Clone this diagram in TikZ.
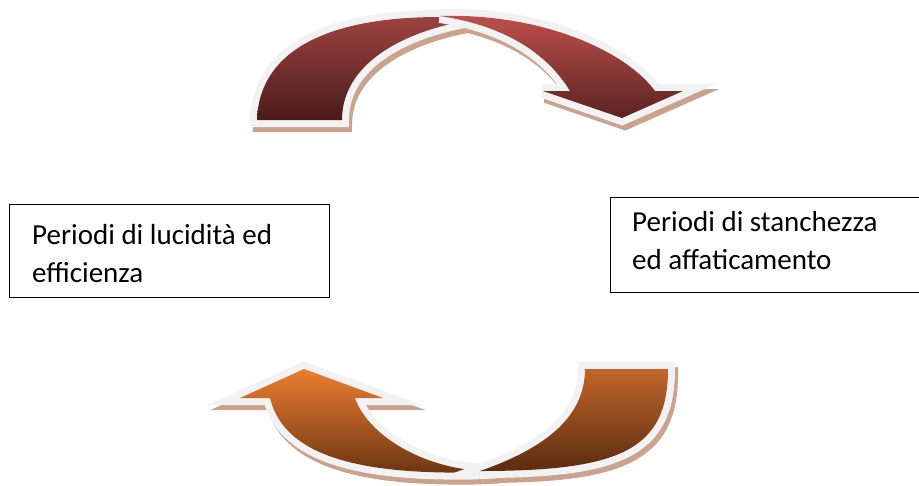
\documentclass[tikz,border=0pt]{standalone}
\usepackage{fontspec}
\setmainfont{Carlito}
\begin{document}
\begin{tikzpicture}[x=1pt,y=-1pt,
  outl/.style={draw=outlc,line width=14pt,line join=miter,miter limit=6},
  shad/.style={fill=shadc,draw=shadc,line width=14pt,line join=miter,miter limit=6,shift={(3,5)}},
  box/.style={draw=black,line width=1.3pt,rectangle,inner sep=0pt},
  txt/.style={font=\fontsize{29}{37.5}\selectfont,align=left,inner sep=0pt,anchor=base west}]
\definecolor{outlc}{HTML}{F2F2F2}
\definecolor{shadc}{HTML}{C9A38D}
\definecolor{rtop}{HTML}{9C4240}
\definecolor{rbot}{HTML}{4A1C1B}
\definecolor{htop}{HTML}{C0504D}
\definecolor{hbot}{HTML}{5B2321}
\definecolor{otop}{HTML}{ED7D31}
\definecolor{obot}{HTML}{6B3512}
\definecolor{ttop}{HTML}{C2652B}
\definecolor{tbot}{HTML}{5A2C10}
\def\ttail{(257,120) .. controls (259,55) and (320,17) .. (440,17) -- (470,20)
  .. controls (400,32) and (342,65) .. (342,120) -- cycle}
\def\thead{(440,16) .. controls (540,13) and (625,50) .. (655,91)
  -- (683,91) -- (622,118) -- (543,91) -- (570,91)
  .. controls (545,50) and (500,25) .. (440,16) -- cycle}
\def\bhead{(304,369) -- (383,398) -- (355,398)
  .. controls (368,435) and (420,465) .. (472,470) -- (495,471.5) -- (472,472.5)
  .. controls (370,474) and (285,460) .. (270,398)
  -- (240,398) -- cycle}
\def\btail{(585,369) -- (668,369)
  .. controls (668,450) and (620,471) .. (480,471)
  .. controls (540,450) and (585,420) .. (585,369) -- cycle}
\fill[white] (0,0) rectangle (919,485);
\useasboundingbox (0,0) rectangle (919,485);
\clip (0,0) rectangle (919,485);
% top arrow
\filldraw[shad] \ttail;
\filldraw[shad] \thead;
\draw[outl] \ttail;
\shade[top color=rtop,bottom color=rbot] \ttail;
\draw[outl] \thead;
\shade[top color=htop,bottom color=hbot] \thead;
% bottom arrow
\filldraw[shad] \bhead;
\filldraw[shad] \btail;
\draw[outl] \bhead;
\shade[top color=otop,bottom color=obot] \bhead;
\draw[outl] \btail;
\shade[top color=ttop,bottom color=tbot] \btail;
% boxes
\node[box,minimum width=320pt,minimum height=93pt,anchor=north west] (lbox) at (9,204) {};
\node[txt] (ltext) at (32,282) {Periodi di lucidità ed\\efficienza};
\node[box,minimum width=320pt,minimum height=95pt,anchor=north west] (rbox) at (610,197) {};
\node[txt] (rtext) at (632,269) {Periodi di stanchezza\\ed affaticamento};
\end{tikzpicture}
\end{document}
